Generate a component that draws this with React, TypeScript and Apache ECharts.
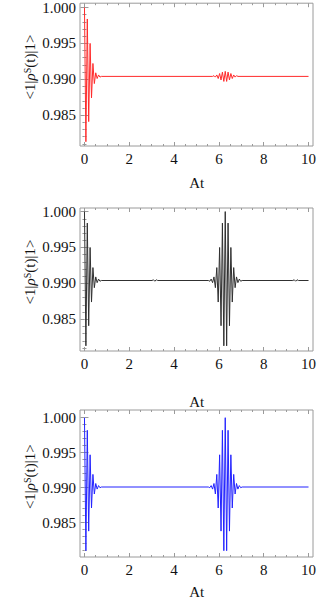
import React, { useEffect, useRef } from "react";
import * as echarts from "echarts";

// ---- data (turning points) ----
const redT = [0, 0.063, 0.126, 0.188, 0.251, 0.314, 0.377, 0.44, 0.503, 0.565, 0.628, 0.69, 0.754,
  5.717, 5.78, 5.843, 5.906, 5.969, 6.032, 6.094, 6.157, 6.22, 6.283, 6.346, 6.409, 6.471, 6.534, 6.597, 6.66, 6.723, 6.786, 6.849, 10];
const redV = [1.0, 0.9813, 0.9984, 0.9841, 0.995, 0.9874, 0.9922, 0.9894, 0.9909, 0.9901, 0.9906, 0.9903, 0.9904,
  0.9904, 0.9905, 0.9903, 0.9906, 0.9901, 0.9908, 0.9899, 0.991, 0.9897, 0.9911, 0.9897, 0.991, 0.9899, 0.9908, 0.9901, 0.9906, 0.9903, 0.9905, 0.9904, 0.9904];

const blackT = [0, 0.063, 0.126, 0.188, 0.251, 0.314, 0.377, 0.44, 0.503, 0.565, 0.628, 0.69, 0.754,
  3.016, 3.079, 3.142, 3.205, 3.268,
  5.529, 5.593, 5.655, 5.718, 5.78, 5.843, 5.906, 5.969, 6.032, 6.095, 6.157, 6.22, 6.283, 6.346, 6.409, 6.471, 6.534, 6.597, 6.66, 6.723, 6.786, 6.848, 6.911, 6.973, 7.037,
  9.299, 9.362, 9.425, 9.488, 9.551, 10];
const blackV = [1.0, 0.9813, 0.9984, 0.9841, 0.995, 0.9874, 0.9922, 0.9894, 0.9909, 0.9901, 0.9906, 0.9903, 0.9904,
  0.9904, 0.9905, 0.9903, 0.9905, 0.9904,
  0.9904, 0.9903, 0.9906, 0.9901, 0.9909, 0.9894, 0.9922, 0.9874, 0.995, 0.9841, 0.9984, 0.9813, 1.0, 0.9813, 0.9984, 0.9841, 0.995, 0.9874, 0.9922, 0.9894, 0.9909, 0.9901, 0.9906, 0.9903, 0.9904,
  0.9904, 0.9905, 0.9903, 0.9905, 0.9904, 0.9904];

const blueT = [0, 0.063, 0.126, 0.188, 0.251, 0.314, 0.377, 0.44, 0.503, 0.565, 0.628, 0.69, 0.754,
  5.529, 5.593, 5.655, 5.718, 5.78, 5.843, 5.906, 5.969, 6.032, 6.095, 6.157, 6.22, 6.283, 6.346, 6.409, 6.471, 6.534, 6.597, 6.66, 6.723, 6.786, 6.848, 6.911, 6.973, 7.037, 10];
const blueV = [1.0, 0.981, 0.9982, 0.9838, 0.9947, 0.9871, 0.9919, 0.9891, 0.9906, 0.9898, 0.9903, 0.99, 0.9901,
  0.9901, 0.99, 0.9903, 0.9898, 0.9906, 0.9891, 0.9919, 0.9871, 0.9947, 0.9838, 0.9982, 0.981, 1.0, 0.981, 0.9982, 0.9838, 0.9947, 0.9871, 0.9919, 0.9891, 0.9906, 0.9898, 0.9903, 0.99, 0.9901, 0.9901];

const xMajor = [0, 2, 4, 6, 8, 10];
const xMinor = [0.5, 1, 1.5, 2.5, 3, 3.5, 4.5, 5, 5.5, 6.5, 7, 7.5, 8.5, 9, 9.5];
const yMajor = [0.985, 0.99, 0.995, 1.0];
const yMinor = [0.981, 0.982, 0.983, 0.984, 0.986, 0.987, 0.988, 0.989, 0.991, 0.992, 0.993, 0.994, 0.996, 0.997, 0.998, 0.999];

const xLabel = "At";
const yLabel = "<1|{r|ρ}{sup|S}(t)|1>";

const panels = [
  { t: redT, v: redV, color: "#ff2b2b", top: 3, height: 143, yMin: 0.9807, yMax: 1.0006, yLab: 67, xLab: 183 },
  { t: blackT, v: blackV, color: "#303030", top: 208, height: 143, yMin: 0.98058, yMax: 1.0005, yLab: 272, xLab: 401.7 },
  { t: blueT, v: blueV, color: "#2323ff", top: 410, height: 147, yMin: 0.9801, yMax: 1.0011, yLab: 476.7, xLab: 592 },
];

const FONT = "'Liberation Serif', 'Times New Roman', serif";
const FRAME = "#9a9a9a";
const FS = 15;

export default function App() {
  const ref = useRef<HTMLDivElement>(null);
  useEffect(() => {
    if (!ref.current) return;
    const chart = echarts.init(ref.current, null, { renderer: "svg" });
    const grids: any[] = [];
    const xAxes: any[] = [];
    const yAxes: any[] = [];
    const series: any[] = [];
    const graphic: any[] = [];
    panels.forEach((p, g) => {
      grids.push({ left: 80, top: p.top, width: 233, height: p.height, show: true, borderColor: FRAME, borderWidth: 1, backgroundColor: "transparent", containLabel: false });
      const xBase = { type: "value", gridIndex: g, min: -0.2, max: 10.2, axisLine: { show: false }, splitLine: { show: false } };
      const yBase = { type: "value", gridIndex: g, min: p.yMin, max: p.yMax, axisLine: { show: false }, splitLine: { show: false }, scale: true };
      (["bottom", "top"] as const).forEach((pos) => {
        xAxes.push({ ...xBase, position: pos,
          axisTick: { show: true, inside: true, length: 4, customValues: xMajor, lineStyle: { color: FRAME, width: 1 } },
          axisLabel: pos === "bottom"
            ? { show: true, customValues: xMajor, margin: 5, fontFamily: FONT, fontSize: FS, color: "#111", formatter: (v: number) => String(v) }
            : { show: false } });
        xAxes.push({ ...xBase, position: pos,
          axisTick: { show: true, inside: true, length: 2, customValues: xMinor, lineStyle: { color: FRAME, width: 1 } },
          axisLabel: { show: false } });
      });
      (["left", "right"] as const).forEach((pos) => {
        yAxes.push({ ...yBase, position: pos,
          axisTick: { show: true, inside: true, length: 4, customValues: yMajor, lineStyle: { color: FRAME, width: 1 } },
          axisLabel: pos === "left"
            ? { show: true, customValues: yMajor, margin: 4, fontFamily: FONT, fontSize: FS, color: "#111", formatter: (v: number) => v.toFixed(3) }
            : { show: false } });
        yAxes.push({ ...yBase, position: pos,
          axisTick: { show: true, inside: true, length: 2, customValues: yMinor, lineStyle: { color: FRAME, width: 1 } },
          axisLabel: { show: false } });
      });
      series.push({
        type: "line", xAxisIndex: g * 4, yAxisIndex: g * 4, showSymbol: false, symbol: "none",
        lineStyle: { color: p.color, width: 1 }, data: p.t.map((t, i) => [t, p.v[i]]),
      });
      graphic.push({
        type: "text", x: 30, y: p.yLab, rotation: Math.PI / 2,
        style: {
          text: yLabel, fontFamily: FONT, fontSize: FS, fill: "#111", align: "center", verticalAlign: "middle",
          rich: { r: { fontFamily: FONT, fontSize: FS, fontStyle: "italic", fill: "#111" }, sup: { fontFamily: FONT, fontSize: 10, verticalAlign: "top", fill: "#111" } },
        },
      });
      graphic.push({
        type: "text", x: 196.7, y: p.xLab,
        style: { text: xLabel, fontFamily: FONT, fontSize: FS, fill: "#111", align: "center", verticalAlign: "middle" },
      });
    });
    chart.setOption({ animation: false, grid: grids, xAxis: xAxes, yAxis: yAxes, series, graphic });
    return () => chart.dispose();
  }, []);
  return <div ref={ref} style={{ position: "fixed", left: 0, top: 0, width: 335, height: 600, background: "#fff" }} />;
}
